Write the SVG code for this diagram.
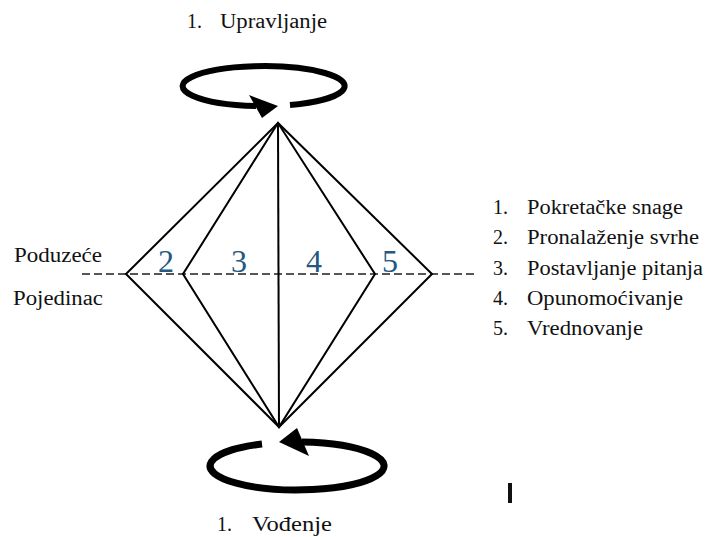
<svg xmlns="http://www.w3.org/2000/svg" width="709" height="537" viewBox="0 0 709 537">
<style>
.t{font-family:"Liberation Serif","DejaVu Serif","Times New Roman",serif;font-size:20px;fill:#111}
.n{font-family:"Liberation Serif","DejaVu Serif","Times New Roman",serif;font-size:32px;fill:#24587f;text-anchor:middle}
.e{fill:none;stroke:#000;stroke-linecap:butt}
.d{fill:none;stroke:#000;stroke-width:2;stroke-linejoin:miter}
</style>
<rect width="709" height="537" fill="#fff"/>
<g id="connectors">
<line x1="82" y1="274" x2="478" y2="274" stroke="#555" stroke-width="2" stroke-dasharray="8 4"/>
<polygon class="d" points="278,123 126,274 279,427 432,274"/>
<polygon class="d" points="278,123 183,274 279,427 375,274"/>
<line class="d" x1="278" y1="123" x2="279" y2="427"/>
</g>
<g id="cycle-top">
<path class="e" stroke-width="6" d="M 290 105 A 81 20 0 1 0 256 106"/>
<polygon points="278,106 249,95 262,118" fill="#000"/>
</g>
<g id="cycle-bottom">
<path class="e" stroke-width="7" d="M 262 444 A 87 24 0 1 0 302 442"/>
<polygon points="279,442 297,428 309,456" fill="#000"/>
</g>
<g id="labels">
<text class="t" x="187" y="28">1.</text>
<text class="t" x="220" y="28" textLength="107" lengthAdjust="spacingAndGlyphs">Upravljanje</text>
<text class="t" x="217" y="531">1.</text>
<text class="t" x="252" y="531" textLength="80" lengthAdjust="spacingAndGlyphs">Vođenje</text>
<text class="t" x="14" y="262" textLength="88" lengthAdjust="spacingAndGlyphs">Poduzeće</text>
<text class="t" x="13" y="305" textLength="90" lengthAdjust="spacingAndGlyphs">Pojedinac</text>
<text class="n" x="166" y="272">2</text>
<text class="n" x="239" y="272">3</text>
<text class="n" x="314" y="272">4</text>
<text class="n" x="390" y="272">5</text>
</g>
<g id="legend">
<text class="t" x="493" y="214">1.</text><text class="t" x="527" y="214" textLength="156" lengthAdjust="spacingAndGlyphs">Pokretačke snage</text>
<text class="t" x="493" y="244">2.</text><text class="t" x="527" y="244" textLength="172" lengthAdjust="spacingAndGlyphs">Pronalaženje svrhe</text>
<text class="t" x="493" y="275">3.</text><text class="t" x="527" y="275" textLength="176" lengthAdjust="spacingAndGlyphs">Postavljanje pitanja</text>
<text class="t" x="493" y="305">4.</text><text class="t" x="527" y="305" textLength="156" lengthAdjust="spacingAndGlyphs">Opunomoćivanje</text>
<text class="t" x="493" y="335">5.</text><text class="t" x="527" y="335" textLength="116" lengthAdjust="spacingAndGlyphs">Vrednovanje</text>
</g>
<rect x="508" y="483" width="4" height="20" fill="#111"/>
</svg>
